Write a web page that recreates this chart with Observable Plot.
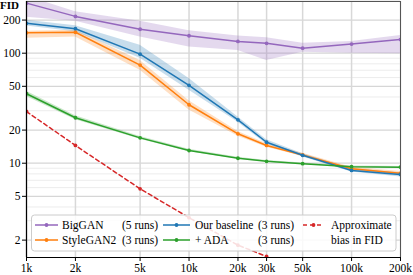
<!DOCTYPE html>
<html>
<head>
<meta charset="utf-8">
<script src="https://cdn.jsdelivr.net/npm/d3@7"></script>
<script src="https://cdn.jsdelivr.net/npm/@observablehq/plot@0.6"></script>
<style>
  html, body { margin: 0; padding: 0; background: white; }
  svg text { font-family: "Liberation Serif", "Times New Roman", "DejaVu Serif", serif !important; }
</style>
</head>
<body>
<div id="chart"></div>
<script>
// ---- data ----
const sizes = [1000, 2000, 5000, 10000, 20000, 30000, 50000, 100000, 200000];
const xTicks = [1000, 2000, 5000, 10000, 20000, 30000, 50000, 100000, 200000];
const yTicks = [2, 5, 10, 20, 50, 100, 200];
const yMinor = [3, 4, 6, 7, 8, 9, 30, 40, 60, 70, 80, 90, 300];

const bigganFID = [285, 216, 165, 144, 128, 123, 111, 121, 133];
const bigganLo  = [212, 195, 140, 114, 106, 86, 102, 100, 99];
const bigganHi  = [330, 238, 195, 160, 143, 138, 123, 128, 145];

const styleganFID = [153, 155, 78, 34, 18.5, 14.5, 11.9, 8.9, 8.1];
const styleganLo  = [137, 140, 70, 30.5, 17.6, 14, 11.5, 8.6, 7.8];
const styleganHi  = [158, 162, 86, 37, 19.4, 15, 12.3, 9.2, 8.4];

const baselineFID = [187, 167, 98, 51, 24.8, 15.5, 11.8, 8.6, 7.9];
const baselineLo  = [177, 157, 90, 46, 23.6, 14.9, 11.4, 8.3, 7.5];
const baselineHi  = [199, 178, 118, 59, 26.3, 16.3, 12.2, 8.9, 8.2];

const adaFID = [42.8, 25.9, 17, 13.05, 11.1, 10.4, 9.9, 9.3, 9.2];
const adaLo  = [40.5, 24.8, 16.5, 12.7, 10.9, 10.2, 9.75, 9.15, 9.05];
const adaHi  = [45, 27, 17.5, 13.4, 11.3, 10.6, 10.05, 9.45, 9.35];

const biasSizes = [1000, 2000, 5000, 10000, 20000, 30000];
const biasFID = [29.5, 14.5, 5.85, 3.2, 1.8, 1.42];

const seriesNames = ["BigGAN", "StyleGAN2", "Our baseline", "+ ADA"];
const seriesColors = ["#9467bd", "#ff7f0e", "#1f77b4", "#2ca02c"];
const biasColor = "#d62728";

// ---- build tables ----
const seriesVals = [
  [bigganFID, bigganLo, bigganHi],
  [styleganFID, styleganLo, styleganHi],
  [baselineFID, baselineLo, baselineHi],
  [adaFID, adaLo, adaHi]
];
const rows = [];
seriesNames.forEach((name, i) => {
  sizes.forEach((s, j) => {
    rows.push({series: name, size: s, fid: seriesVals[i][0][j], lo: seriesVals[i][1][j], hi: seriesVals[i][2][j]});
  });
});
const biasRows = biasSizes.map((s, j) => ({size: s, fid: biasFID[j]}));

const fmtK = d => `${d / 1000}k`;
const FONT = "'Liberation Serif', 'Times New Roman', 'DejaVu Serif', serif";

const marks = [
  Plot.ruleY(yMinor, {stroke: "#ececec", strokeWidth: 1}),
  Plot.ruleY(yTicks, {stroke: "#d6d6d6", strokeWidth: 1.2}),
  Plot.ruleX(xTicks, {stroke: "#d8d8d8", strokeWidth: 1.5}),
];
seriesNames.forEach((name, i) => {
  const d = rows.filter(r => r.series === name);
  marks.push(Plot.areaY(d, {x: "size", y1: "lo", y2: "hi", fill: seriesColors[i], fillOpacity: 0.25, clip: true}));
});
seriesNames.forEach((name, i) => {
  const d = rows.filter(r => r.series === name);
  marks.push(Plot.line(d, {x: "size", y: "fid", stroke: seriesColors[i], strokeWidth: 1.5, clip: true}));
  marks.push(Plot.dot(d, {x: "size", y: "fid", fill: seriesColors[i], r: 1.9, clip: true}));
});
marks.push(Plot.line(biasRows, {x: "size", y: "fid", stroke: biasColor, strokeWidth: 1.5, strokeDasharray: "4,3", clip: true}));
marks.push(Plot.dot(biasRows, {x: "size", y: "fid", fill: biasColor, r: 1.9, clip: true}));
marks.push(Plot.frame({stroke: "#555", strokeWidth: 1}));
marks.push(Plot.ruleX([1000], {stroke: "black", strokeWidth: 1.2}));
marks.push(Plot.ruleY([1.39], {stroke: "black", strokeWidth: 1.2}));
marks.push(Plot.axisY({ticks: yTicks, tickFormat: d => `${d}`, tickSize: 4, tickPadding: 2, label: null, stroke: "black", fontSize: 11.5}));
marks.push(Plot.axisX({ticks: xTicks, tickFormat: fmtK, tickSize: 4, tickPadding: 2, label: null, stroke: "black", fontSize: 11.5}));

const chart = Plot.plot({
  width: 413,
  height: 275,
  marginLeft: 26,
  marginRight: 13,
  marginTop: 1,
  marginBottom: 18,
  style: {fontFamily: FONT, fontSize: "11.5px", background: "white", color: "black", overflow: "visible"},
  x: {type: "log", domain: [1000, 200000]},
  y: {type: "log", domain: [1.39, 295]},
  marks
});

const svg = d3.select(chart);
// y label
svg.append("text").attr("x", 0).attr("y", 9).attr("text-anchor", "start")
  .attr("font-weight", "bold").attr("font-size", 11)
  .attr("font-family", FONT).text("FID");

// legend
const lg = svg.append("g").attr("font-family", FONT).attr("font-size", 11.5).attr("text-anchor", "start");
lg.append("rect").attr("x", 31.5).attr("y", 215).attr("width", 364.5).attr("height", 36).attr("rx", 3)
  .attr("fill", "white").attr("fill-opacity", 0.85).attr("stroke", "#cccccc");
const legendItems = [
  {label: seriesNames[0], runs: "(5 runs)", color: seriesColors[0], x0: 35, x1: 58, tx: 62, rx: 122, row: 0, dash: null},
  {label: seriesNames[1], runs: "(3 runs)", color: seriesColors[1], x0: 35, x1: 58, tx: 62, rx: 122, row: 1, dash: null},
  {label: seriesNames[2], runs: "(3 runs)", color: seriesColors[2], x0: 163, x1: 190, tx: 195, rx: 258, row: 0, dash: null},
  {label: seriesNames[3], runs: "(3 runs)", color: seriesColors[3], x0: 163, x1: 190, tx: 195, rx: 258, row: 1, dash: null},
  {label: "Approximate", runs: "", color: biasColor, x0: 303, x1: 324, tx: 331, rx: 0, row: 0, dash: "4,3"},
];
legendItems.forEach(it => {
  const cy = it.row === 0 ? 225 : 240;
  const line = lg.append("line").attr("x1", it.x0).attr("x2", it.x1).attr("y1", cy).attr("y2", cy)
    .attr("stroke", it.color).attr("stroke-width", 1.5);
  if (it.dash) line.attr("stroke-dasharray", it.dash);
  lg.append("circle").attr("cx", (it.x0 + it.x1) / 2).attr("cy", cy).attr("r", 1.9).attr("fill", it.color);
  lg.append("text").attr("x", it.tx).attr("y", cy + 4).attr("fill", "black").text(it.label);
  if (it.runs) lg.append("text").attr("x", it.rx).attr("y", cy + 4).attr("fill", "black").text(it.runs);
});
lg.append("text").attr("x", 331).attr("y", 244).attr("fill", "black").text("bias in FID");

document.getElementById("chart").appendChild(chart);
</script>
</body>
</html>
